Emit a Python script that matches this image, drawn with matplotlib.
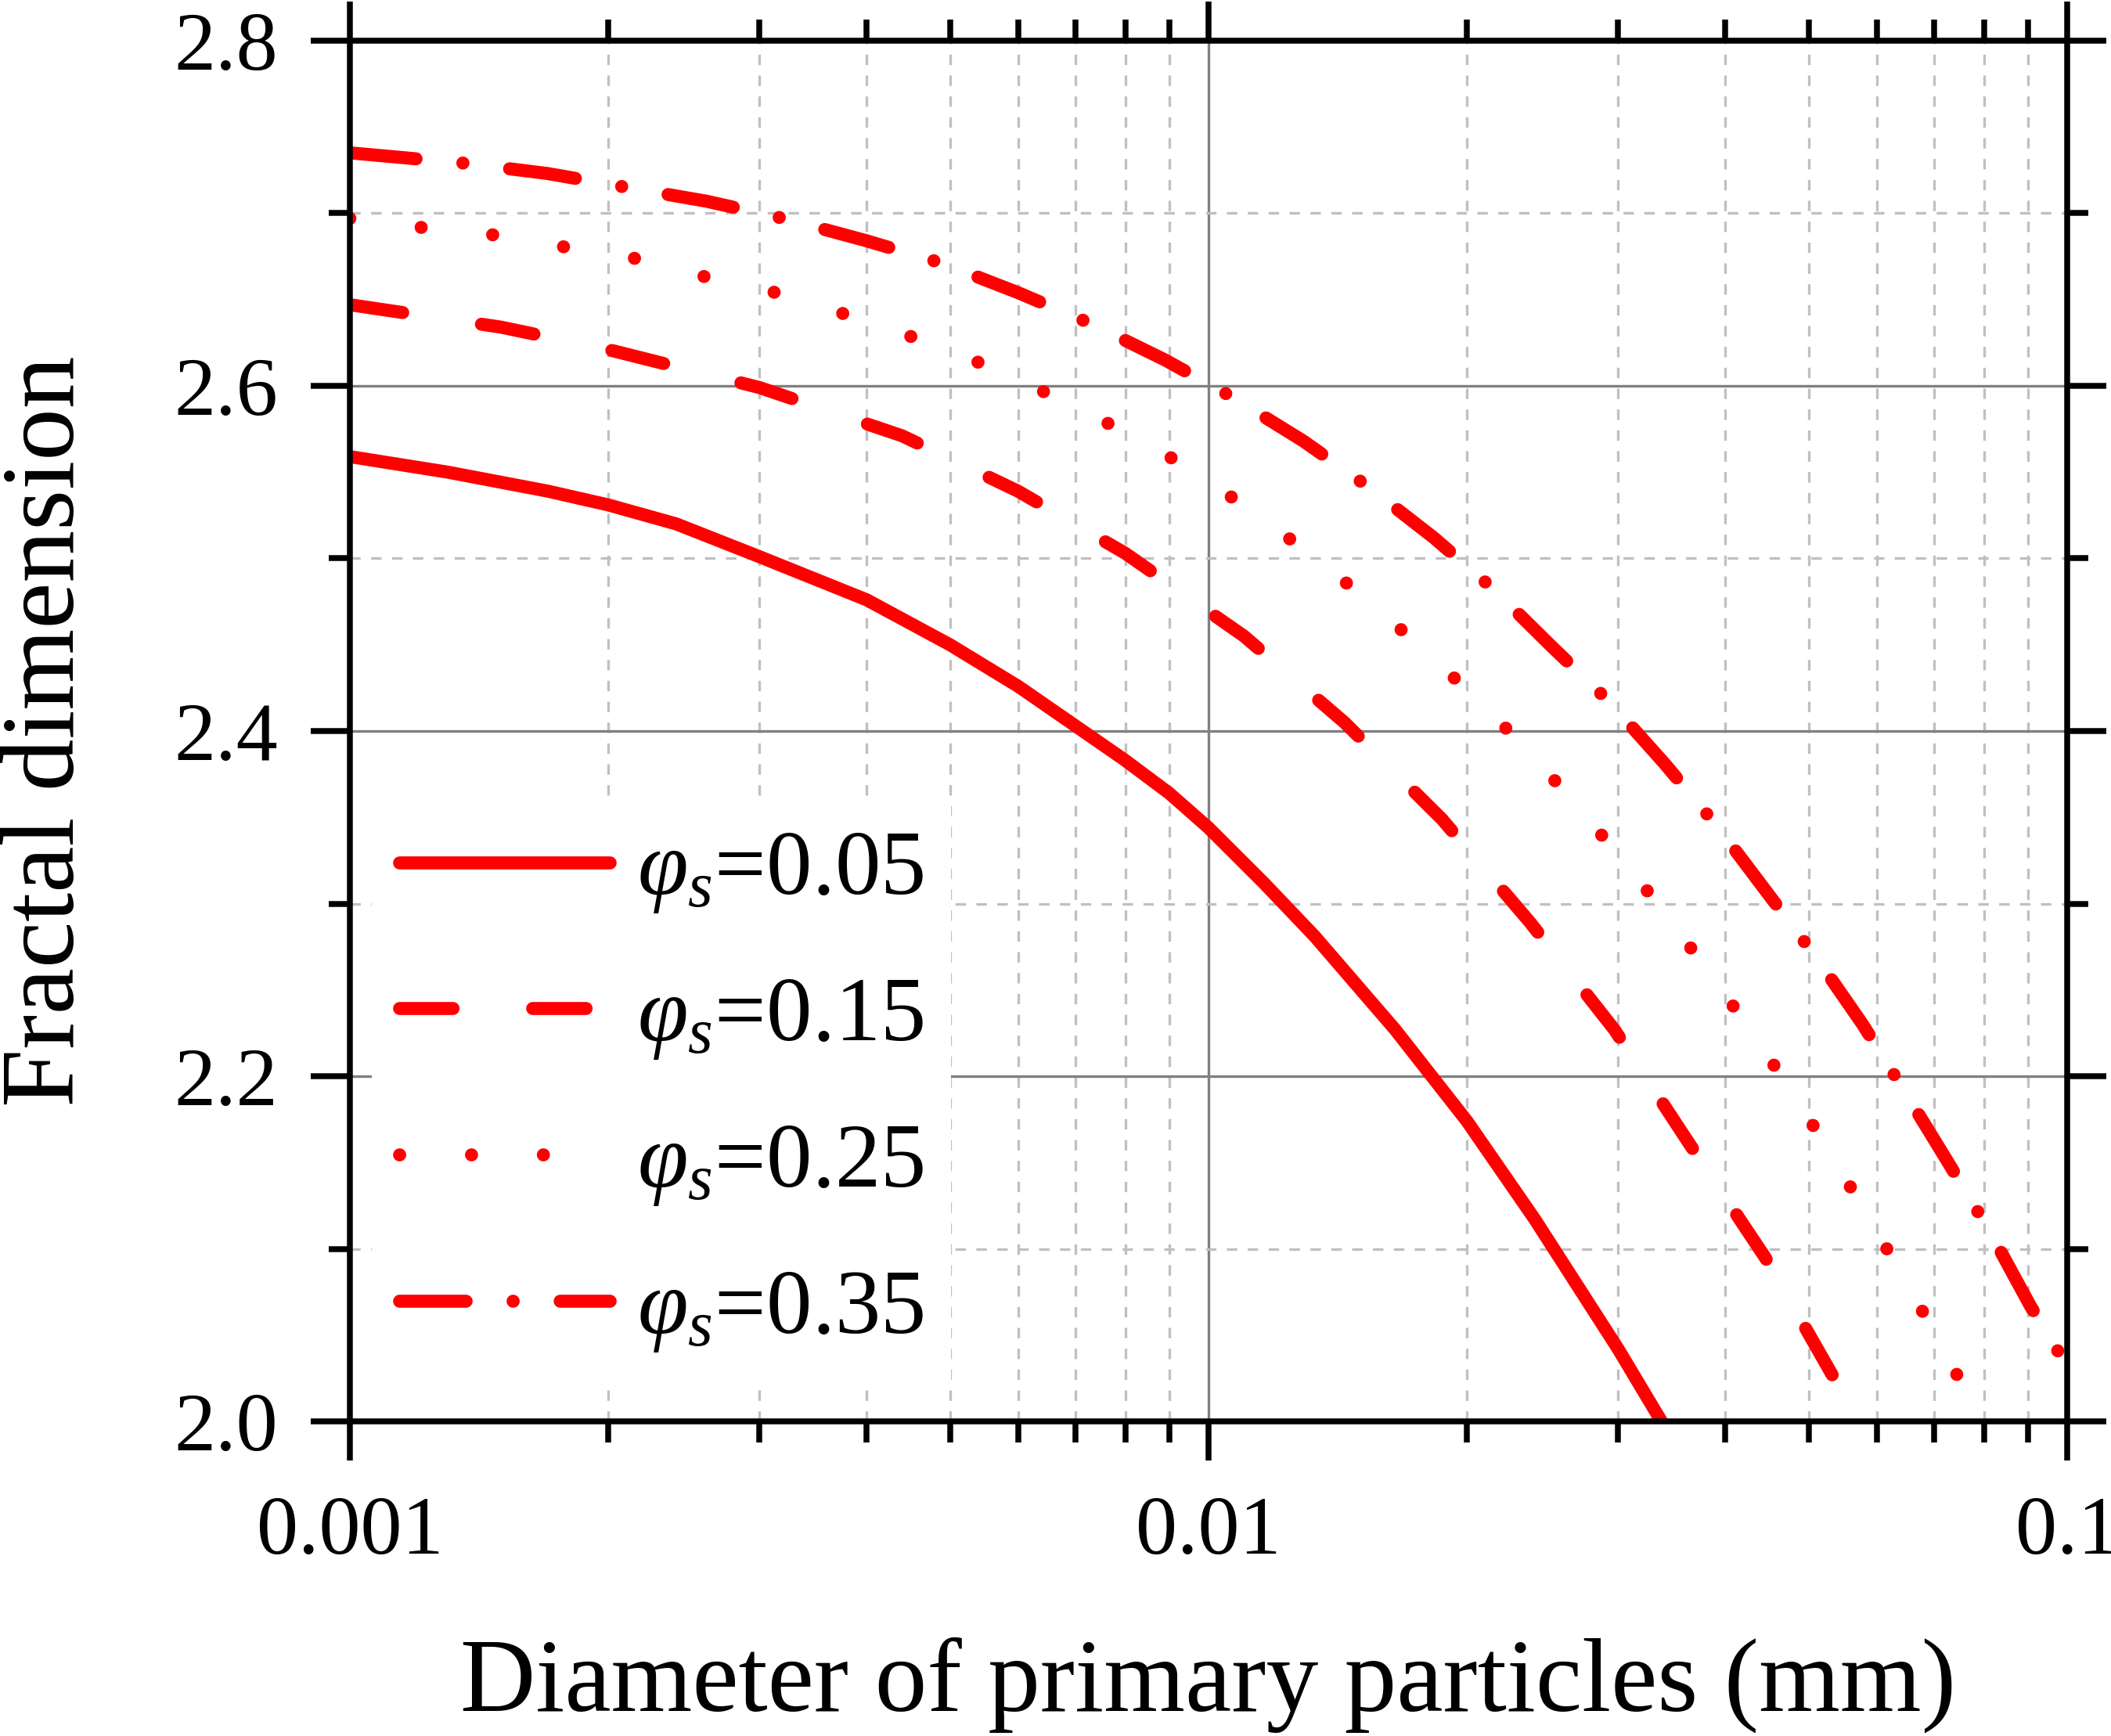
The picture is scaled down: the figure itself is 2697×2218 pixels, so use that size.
import numpy as np
from matplotlib import pyplot as plt
from matplotlib.ticker import FixedLocator, NullFormatter, MultipleLocator

plt.rcParams['font.family'] = ['Liberation Serif', 'DejaVu Serif']
plt.rcParams['mathtext.fontset'] = 'custom'
plt.rcParams['mathtext.rm'] = 'Liberation Serif'
plt.rcParams['mathtext.it'] = 'Liberation Serif:italic'

# values (diameter in mm, fractal dimension)
x_005 = [0.001, 0.0013, 0.0017, 0.002, 0.0024, 0.003, 0.004, 0.005, 0.006, 0.007,
         0.008, 0.009, 0.01, 0.0116, 0.0133, 0.0165, 0.02, 0.024, 0.03, 0.0337]
y_005 = [2.559, 2.550, 2.539, 2.531, 2.520, 2.501, 2.476, 2.450, 2.426, 2.403,
         2.383, 2.364, 2.344, 2.312, 2.281, 2.227, 2.174, 2.117, 2.042, 2.0]

x_015 = [0.001, 0.0015, 0.002, 0.003, 0.0044, 0.006, 0.008, 0.011, 0.0144, 0.0187,
         0.0237, 0.0297, 0.0363, 0.0445, 0.0534, 0.0575]
y_015 = [2.647, 2.634, 2.621, 2.599, 2.571, 2.539, 2.503, 2.455, 2.405, 2.349,
         2.289, 2.227, 2.161, 2.095, 2.026, 2.0]

x_025 = [0.001, 0.0012, 0.0015, 0.0018, 0.0022, 0.0026, 0.0032, 0.0038, 0.0046, 0.0055,
         0.0066, 0.0078, 0.0093, 0.0109, 0.0127, 0.0148, 0.0171, 0.0198, 0.0228, 0.0261,
         0.0297, 0.0336, 0.0379, 0.0426, 0.0475, 0.0528, 0.0584, 0.0646, 0.0712, 0.0782, 0.0795]
y_025 = [2.697, 2.692, 2.687, 2.680, 2.673, 2.663, 2.653, 2.641, 2.627, 2.612,
         2.594, 2.576, 2.555, 2.532, 2.508, 2.482, 2.455, 2.426, 2.396, 2.364,
         2.331, 2.298, 2.263, 2.228, 2.193, 2.157, 2.120, 2.083, 2.045, 2.007, 2.0]

x_035 = [0.001, 0.00136, 0.0017, 0.0021, 0.0026, 0.0032, 0.004, 0.0049, 0.006, 0.0073,
         0.0089, 0.0107, 0.0129, 0.0154, 0.0183, 0.0215, 0.0251, 0.0293, 0.034, 0.0391,
         0.0448, 0.051, 0.0578, 0.0649, 0.0727, 0.0815, 0.0906, 0.1]
y_035 = [2.735, 2.729, 2.723, 2.715, 2.707, 2.697, 2.684, 2.671, 2.654, 2.636,
         2.615, 2.593, 2.568, 2.541, 2.512, 2.482, 2.449, 2.417, 2.381, 2.345,
         2.306, 2.269, 2.230, 2.190, 2.150, 2.109, 2.067, 2.032]

labels = [r'$\varphi_s$=0.05', r'$\varphi_s$=0.15', r'$\varphi_s$=0.25', r'$\varphi_s$=0.35']
x_ticks = [0.001, 0.01, 0.1]
x_tick_labels = ['0.001', '0.01', '0.1']
y_ticks = [2.0, 2.2, 2.4, 2.6, 2.8]

fig = plt.figure(figsize=(2697 / 300, 2218 / 300), dpi=300)
ax = fig.add_axes([0.1657, 0.1812, 0.8135, 0.7954])

red = '#ff0000'
lw = 4
ax.plot(x_005, y_005, color=red, lw=lw, solid_capstyle='round', solid_joinstyle='round', label=labels[0])
ax.plot(x_015, y_015, color=red, lw=lw, dashes=(4.1, 6.1), dash_capstyle='round', label=labels[1])
ax.plot(x_025, y_025, color=red, lw=lw, dashes=(0.01, 5.5), dash_capstyle='round', label=labels[2])
ax.plot(x_035, y_035, color=red, lw=lw, dashes=(5.1, 3.6, 0.01, 3.6), dash_capstyle='round', label=labels[3])

ax.set_xscale('log')
ax.set_xlim(0.001, 0.1)
ax.set_ylim(2.0, 2.8)
ax.xaxis.set_major_locator(FixedLocator(x_ticks))
ax.set_xticklabels(x_tick_labels)
minor = [m * d for d in [0.001, 0.01] for m in range(2, 10)]
ax.xaxis.set_minor_locator(FixedLocator(minor))
ax.xaxis.set_minor_formatter(NullFormatter())
ax.set_yticks(y_ticks)
ax.set_yticklabels(['%.1f' % v for v in y_ticks])
ax.yaxis.set_minor_locator(MultipleLocator(0.1))

ax.grid(which='major', color='#808080', lw=0.8, ls='-')
ax.grid(which='minor', color='#c0c0c0', lw=0.8, ls=(0, (4, 4)))
ax.set_axisbelow(True)

for s in ax.spines.values():
    s.set_linewidth(1.8)
ax.tick_params(which='both', direction='out', top=True, right=True, width=1.8)
ax.tick_params(which='major', length=12, labelsize=25.5, pad=10)
ax.tick_params(which='minor', length=6.5)
ax.tick_params(axis='x', which='major', pad=11)

ax.set_xlabel('Diameter of primary particles (mm)', fontsize=32, labelpad=20)
ax.set_ylabel('Fractal dimension', fontsize=32, labelpad=24)

leg = ax.legend(loc='lower left', bbox_to_anchor=(0.013, 0.029), borderaxespad=0,
                fontsize=28, handlelength=2.3, handletextpad=0.3, labelspacing=0.67,
                borderpad=0.3, frameon=True, fancybox=False, framealpha=1)
leg.get_frame().set_facecolor('white')
leg.get_frame().set_edgecolor('none')

plt.savefig('out.png', dpi=300)
